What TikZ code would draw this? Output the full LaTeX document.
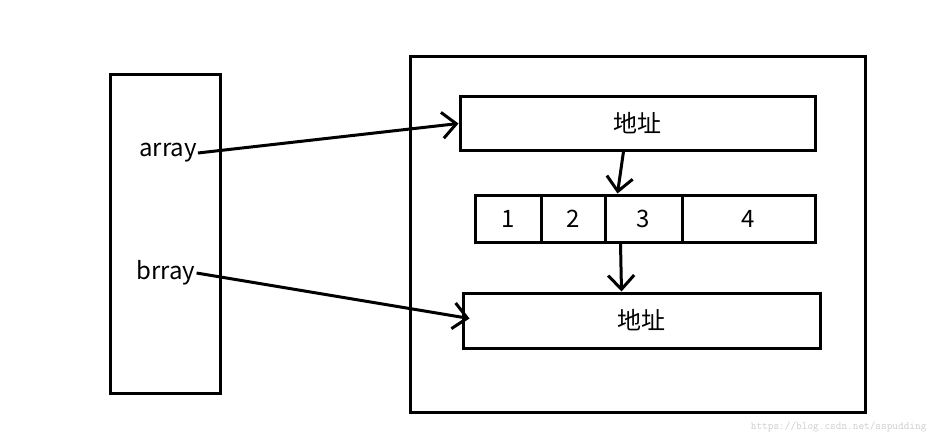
\documentclass[tikz,border=0pt]{standalone}
\usepackage{fontspec}
\setmainfont{Noto Sans CJK SC}
\usetikzlibrary{positioning,arrows.meta}

\tikzset{
  box/.style={draw,line width=3pt,inner sep=0pt},
  cell/.style={box,minimum height=47pt},
  lbl/.style={font=\fontsize{24pt}{26pt}\selectfont,inner sep=1pt},
  ptr/.style={line width=3pt,-{Straight Barb[length=14pt,width=26pt,line width=3pt]}}
}

\begin{document}
\begin{tikzpicture}[x=1pt,y=-1pt]
  \useasboundingbox (0,0) rectangle (941,441);
  % stack frame
  \node[box,minimum width=110pt,minimum height=318pt] (frame) at (165,234) {};
  \node[lbl] (arr) at (168,153) {array};
  \node[lbl] (brr) at (166,273) {brray};
  % heap
  \node[box,minimum width=455pt,minimum height=355pt] (heap) at (637.5,234.5) {};
  \node[box,lbl,minimum width=355pt,minimum height=53pt] (addrA) at (637.5,123.5) {地址};
  \node[cell,lbl,minimum width=66pt] (c1) at (508,218.5) {1};
  \node[cell,lbl,minimum width=64pt,right=-3pt of c1] (c2) {2};
  \node[cell,lbl,minimum width=77pt,right=-3pt of c2] (c3) {3};
  \node[cell,lbl,minimum width=133pt,right=-3pt of c3] (c4) {4};
  \node[box,lbl,minimum width=357pt,minimum height=55pt] (addrB) at (641.5,320.5) {地址};
  % pointers
  \draw[ptr] (arr.east) -- (addrA.west);
  \draw[ptr] (brr.east) -- ([xshift=8pt,yshift=2pt]addrB.west);
  \draw[ptr] (addrA.south -| c3.north west) ++(20pt,0) coordinate (s1) -- ([xshift=14pt]c3.north west);
  \draw[ptr] ([xshift=17pt]c3.south west) -- ([xshift=-20pt]addrB.north);
  % watermark
  \node[font=\ttfamily\fontsize{11pt}{12pt}\selectfont,text=gray!40,anchor=south east] (wm) at (930,436) {https://blog.csdn.net/sspudding};
\end{tikzpicture}
\end{document}
